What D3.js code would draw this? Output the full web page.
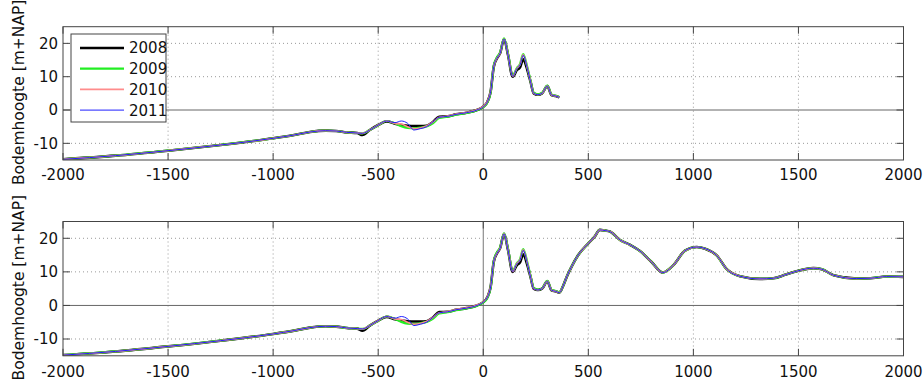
<!DOCTYPE html>
<html><head><meta charset="utf-8">
<script src="https://cdn.jsdelivr.net/npm/d3@7"></script>
<style>body{margin:0;background:#fff}svg{display:block}text{font-family:"DejaVu Sans",Verdana,sans-serif}</style>
</head><body>
<svg id="c" width="923" height="383"></svg>
<script>
// ---- data ----
const years = ["2008", "2009", "2010", "2011"];
const colors = ["#000000", "#22ee22", "#ff8c8c", "#1f1fff"];
const widths = [2.6, 2.2, 1.6, 1.0];
const xTicks = [-2000, -1500, -1000, -500, 0, 500, 1000, 1500, 2000];
const yTicks = [-10, 0, 10, 20];

// seaward part, identical in all years
const xWest = [-2000, -1750, -1500, -1250, -1000, -900, -825, -750, -700, -650, -600];
const zWest = [-14.8, -13.7, -12.2, -10.5, -8.5, -7.5, -6.6, -6.2, -6.3, -6.7, -6.9];

// nearshore part, per year
const xNear = [-575, -540, -500, -460, -420, -390, -360, -330, -300, -270, -240, -210, -170, -130, -80, -30, 0, 20, 35, 50, 65, 80, 99, 118, 140, 160, 175, 190, 210, 225, 240, 260, 280, 305, 325, 345, 362];
const z2008 = [-7.5, -6.0, -4.5, -3.4, -4.1, -4.5, -4.7, -4.8, -4.8, -4.7, -3.6, -2.0, -1.9, -1.3, -0.8, 0.0, 1.0, 2.5, 5.5, 13.0, 15.5, 17.0, 21.3, 16.5, 10.0, 12.0, 12.8, 15.2, 12.0, 8.5, 5.0, 4.6, 5.0, 7.2, 4.5, 4.2, 3.8];
const z2009 = [-7.0, -6.0, -4.6, -3.3, -4.0, -4.9, -5.4, -5.5, -5.3, -4.9, -4.0, -2.4, -2.0, -1.4, -0.9, -0.1, 0.9, 2.3, 5.3, 13.2, 15.8, 17.2, 21.5, 16.8, 10.3, 12.6, 13.8, 16.8, 12.8, 8.8, 5.2, 4.7, 5.1, 7.3, 4.6, 4.3, 3.9];
const z2010 = [-7.0, -6.0, -4.5, -3.3, -4.0, -4.2, -5.0, -5.6, -5.4, -4.8, -3.6, -2.2, -1.8, -1.2, -0.7, 0.1, 1.1, 2.6, 5.6, 13.0, 15.5, 17.0, 21.3, 16.6, 10.1, 12.5, 13.6, 16.6, 12.6, 8.6, 5.0, 4.6, 5.0, 7.2, 4.5, 4.2, 3.8];
const z2011 = [-7.0, -6.0, -4.5, -3.3, -3.8, -3.3, -4.0, -6.0, -5.6, -5.0, -3.6, -2.2, -1.9, -1.3, -0.8, 0.0, 1.0, 2.5, 5.5, 13.0, 15.5, 17.0, 21.3, 16.5, 10.1, 12.4, 13.5, 16.4, 12.5, 8.5, 5.0, 4.6, 5.0, 7.2, 4.5, 4.2, 3.8];

// landward part (bottom panel only), identical in all years
const xEast = [380, 397, 420, 452, 500, 530, 555, 580, 603, 651, 700, 746, 800, 854, 905, 960, 1016, 1056, 1111, 1159, 1222, 1317, 1381, 1440, 1492, 1571, 1611, 1667, 1778, 1841, 1920, 2000];
const zEast = [5.8, 8.5, 11.5, 15.0, 18.5, 20.5, 22.5, 22.3, 22.0, 19.5, 18.0, 16.2, 13.0, 9.8, 12.0, 16.3, 17.4, 16.9, 14.9, 10.8, 8.7, 7.9, 8.1, 9.2, 10.2, 11.1, 10.8, 9.0, 8.0, 8.1, 8.6, 8.5];

const nearByYear = [z2008, z2009, z2010, z2011];
const yLabel = "Bodemhoogte [m+NAP]";

// ---- drawing ----
const svg = d3.select("#c");
const L = 63, R = 903.5;
const FS = 15;
const panels = [
  {top: 26.7, bottom: 160, xmax: 362, labelY: 180},
  {top: 221.5, bottom: 355.8, xmax: 2000, labelY: 377}
];
const x = d3.scaleLinear().domain([-2000, 2000]).range([L, R]);

function series(i, xmax) {
  const pts = [];
  xWest.forEach((xx, k) => pts.push([xx, zWest[k]]));
  xNear.forEach((xx, k) => pts.push([xx, nearByYear[i][k]]));
  if (xmax > 362) xEast.forEach((xx, k) => pts.push([xx, zEast[k]]));
  return pts;
}

panels.forEach((p, pi) => {
  const y = d3.scaleLinear().domain([-15, 25]).range([p.bottom, p.top]);
  const g = svg.append("g");
  const clipId = "clip" + pi;
  svg.append("clipPath").attr("id", clipId).append("rect")
    .attr("x", L).attr("y", p.top).attr("width", R - L).attr("height", p.bottom - p.top);

  // grid
  xTicks.slice(1, -1).forEach(t => {
    g.append("line").attr("x1", x(t)).attr("x2", x(t)).attr("y1", p.top).attr("y2", p.bottom)
      .attr("stroke", t === 0 ? "#777" : "#999").attr("stroke-width", 1)
      .attr("stroke-dasharray", t === 0 ? null : "1,3");
  });
  yTicks.forEach(t => {
    g.append("line").attr("x1", L).attr("x2", R).attr("y1", y(t)).attr("y2", y(t))
      .attr("stroke", t === 0 ? "#666" : "#999").attr("stroke-width", 1)
      .attr("stroke-dasharray", t === 0 ? null : "1,3");
  });

  // lines
  const line = d3.line().x(d => x(d[0])).y(d => y(d[1])).curve(d3.curveMonotoneX);
  years.forEach((yr, i) => {
    g.append("path").datum(series(i, p.xmax)).attr("d", line)
      .attr("fill", "none").attr("stroke", colors[i]).attr("stroke-width", widths[i])
      .attr("stroke-linejoin", "round").attr("clip-path", `url(#${clipId})`);
  });

  // box
  g.append("rect").attr("x", L).attr("y", p.top).attr("width", R - L).attr("height", p.bottom - p.top)
    .attr("fill", "none").attr("stroke", "#444").attr("stroke-width", 1);

  // ticks
  const tl = 7;
  xTicks.forEach(t => {
    g.append("line").attr("x1", x(t)).attr("x2", x(t)).attr("y1", p.bottom).attr("y2", p.bottom - tl).attr("stroke", "#444");
    g.append("line").attr("x1", x(t)).attr("x2", x(t)).attr("y1", p.top).attr("y2", p.top + tl).attr("stroke", "#444");
    g.append("text").attr("x", x(t)).attr("y", p.labelY).attr("text-anchor", "middle")
      .attr("font-size", FS).attr("fill", "#111").text(t);
  });
  yTicks.forEach(t => {
    g.append("line").attr("x1", L).attr("x2", L + tl).attr("y1", y(t)).attr("y2", y(t)).attr("stroke", "#444");
    g.append("line").attr("x1", R).attr("x2", R - tl).attr("y1", y(t)).attr("y2", y(t)).attr("stroke", "#444");
    g.append("text").attr("x", 58).attr("y", y(t)).attr("dy", "0.36em").attr("text-anchor", "end")
      .attr("font-size", FS).attr("fill", "#111").text(t);
  });

  // y label
  const cy = (p.top + p.bottom) / 2 - 1;
  g.append("text").attr("transform", `translate(24,${cy}) rotate(-90)`).attr("text-anchor", "middle")
    .attr("font-size", 15.5).attr("fill", "#111").text(yLabel);
});

// legend (top panel)
const lg = svg.append("g");
lg.append("rect").attr("x", 71).attr("y", 34).attr("width", 95).attr("height", 88)
  .attr("fill", "#fff").attr("stroke", "#444").attr("stroke-width", 1);
years.forEach((yr, i) => {
  const yy = 48 + i * 20.7;
  lg.append("line").attr("x1", 80).attr("x2", 124).attr("y1", yy).attr("y2", yy)
    .attr("stroke", colors[i]).attr("stroke-width", widths[i]);
  lg.append("text").attr("x", 129).attr("y", yy).attr("dy", "0.36em").attr("font-size", FS)
    .attr("fill", "#111").text(yr);
});
</script>
</body></html>
